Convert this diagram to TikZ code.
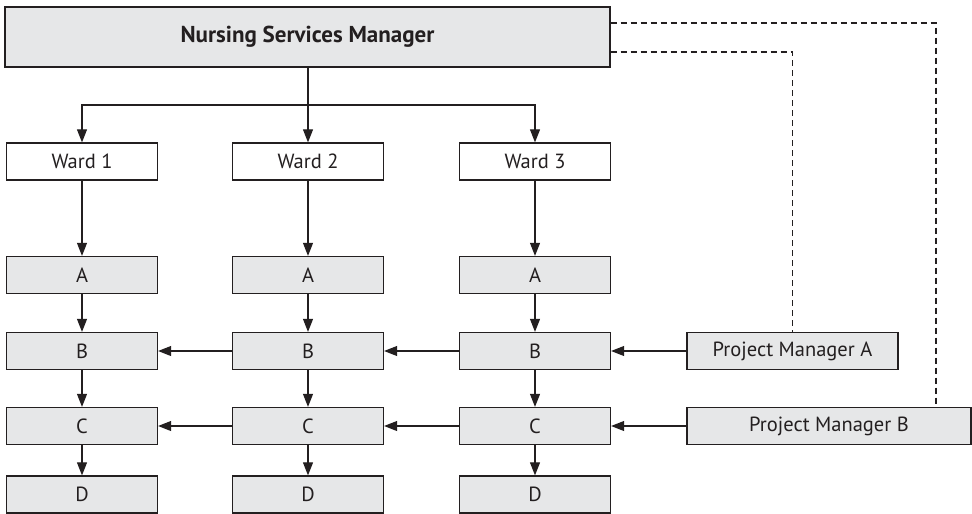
\documentclass[tikz,border=0pt]{standalone}
\usepackage{fontspec}
\setmainfont{PT Sans}
\usetikzlibrary{arrows.meta}
\definecolor{boxgray}{HTML}{E6E7E8}
\definecolor{ink}{HTML}{231F20}
\tikzset{
  box/.style={draw=ink, line width=1.3pt, fill=boxgray, minimum width=151pt, minimum height=37pt, inner sep=0pt, font=\fontsize{20.5}{24}\selectfont, text=ink},
  wardbox/.style={box, fill=white},
  link/.style={draw=ink, line width=1.1pt, -{Triangle[length=13pt,width=10pt]}},
  dotlink/.style={draw=ink, line width=1.1pt, dash pattern=on 6pt off 4pt},
}
\begin{document}
\begin{tikzpicture}[x=1pt,y=-1pt]
\useasboundingbox (0,0) rectangle (972,514);
\node[box, minimum width=605pt, minimum height=60pt, font=\fontsize{23}{26}\selectfont\bfseries] (nsm) at (307.5,37) {Nursing Services Manager};
\foreach \c/\x in {1/82,2/308,3/535}{
  \node[wardbox] (w\c) at (\x,161.5) {Ward \c};
  \node[box] (a\c) at (\x,275) {A};
  \node[box] (b\c) at (\x,351) {B};
  \node[box] (c\c) at (\x,426) {C};
  \node[box] (d\c) at (\x,494.5) {D};
  \draw[link] (w\c) -- (a\c);
  \draw[link] (a\c) -- (b\c);
  \draw[link] (b\c) -- (c\c);
  \draw[link] (c\c) -- (d\c);
}
\node[box, minimum width=211pt] (pma) at (792.5,351) {Project Manager A};
\node[box, minimum width=284pt] (pmb) at (829,426) {Project Manager B};
\coordinate (split) at (308,105);
\draw[draw=ink, line width=1.1pt] (nsm.south -| split) -- (split);
\draw[link] (split) -| (w1.north);
\draw[link] (split) -- (w2.north);
\draw[link] (split) -| (w3.north);
\draw[link] (b3) -- (b2);
\draw[link] (b2) -- (b1);
\draw[link] (pma) -- (b3);
\draw[link] (c3) -- (c2);
\draw[link] (c2) -- (c1);
\draw[link] (pmb) -- (c3);
\coordinate (ka) at (792.5,52);
\coordinate (kb) at (936,23);
\draw[dotlink] (nsm.east |- ka) -- (ka) -- (pma.north);
\draw[dotlink] (nsm.east |- kb) -- (kb) -- (kb |- pmb.north);
\end{tikzpicture}
\end{document}
